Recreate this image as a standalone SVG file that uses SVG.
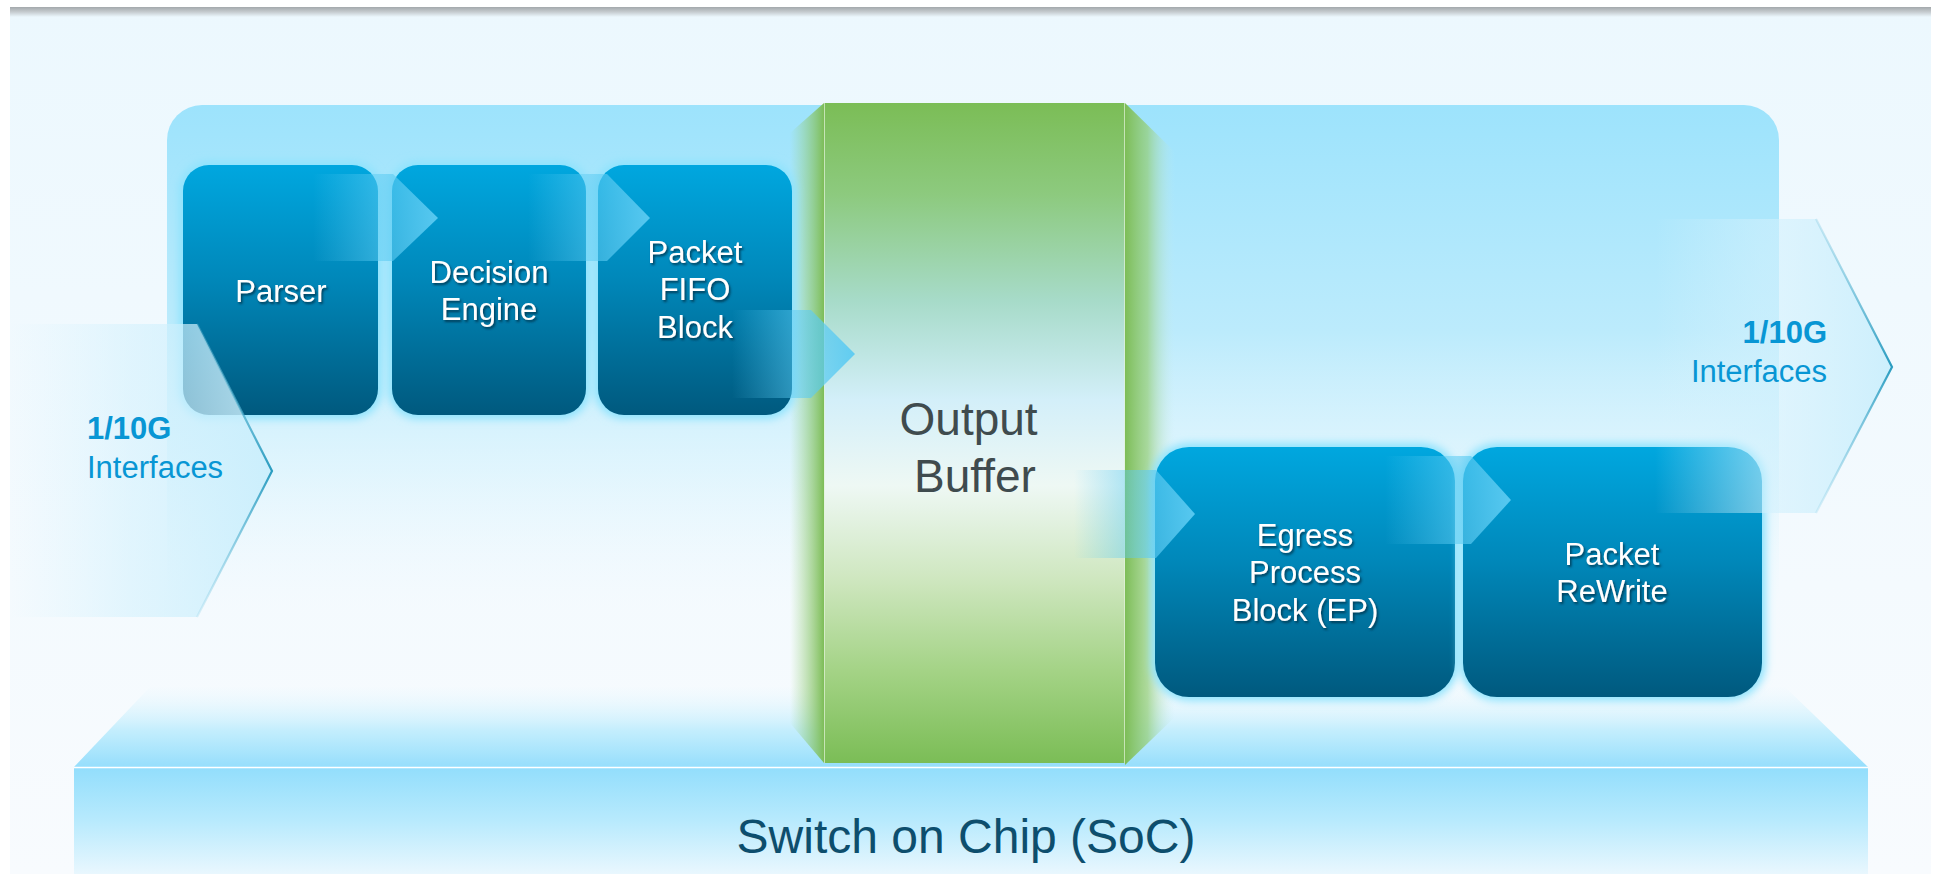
<svg xmlns="http://www.w3.org/2000/svg" width="1934" height="874" viewBox="0 0 1934 874">
  <style>
    .box { fill: url(#boxGrad); }
    .glow { fill: #8ee3fd; filter: url(#soft); }
    .box-label { font-family: "Liberation Sans", Arial, sans-serif; font-size: 31px; fill: #ffffff; text-anchor: middle; filter: url(#txtShadow); }
    .if-rate { font-family: "Liberation Sans", Arial, sans-serif; font-size: 31px; font-weight: bold; fill: #0896d4; }
    .if-name { font-family: "Liberation Sans", Arial, sans-serif; font-size: 31px; fill: #0896d4; }
    .chev { fill: url(#chevGrad); }
    .if-body { fill: url(#ifGrad); }
    .if-edge { fill: none; stroke: url(#ifEdge); stroke-width: 2.2; }
  </style>
  <defs>
    <linearGradient id="bgGrad" x1="0" y1="0" x2="0" y2="1">
      <stop offset="0" stop-color="#ecf8fe"/>
      <stop offset="1" stop-color="#f8fbfe"/>
    </linearGradient>
    <linearGradient id="topShade" gradientUnits="userSpaceOnUse" x1="0" y1="7" x2="0" y2="17">
      <stop offset="0" stop-color="#a3a8ab"/>
      <stop offset="0.5" stop-color="#c6ccd0"/>
      <stop offset="1" stop-color="#ecf8fe"/>
    </linearGradient>
    <linearGradient id="panelGrad" gradientUnits="userSpaceOnUse" x1="0" y1="105" x2="0" y2="610">
      <stop offset="0" stop-color="#9de3fc"/>
      <stop offset="0.45" stop-color="#bcebfc"/>
      <stop offset="0.72" stop-color="#d8f3fd" stop-opacity="0.7"/>
      <stop offset="1" stop-color="#ecf8fe" stop-opacity="0"/>
    </linearGradient>
    <linearGradient id="faceGrad" gradientUnits="userSpaceOnUse" x1="0" y1="685" x2="0" y2="767">
      <stop offset="0" stop-color="#e6f7fe" stop-opacity="0"/>
      <stop offset="0.55" stop-color="#c4eefd"/>
      <stop offset="1" stop-color="#96defc"/>
    </linearGradient>
    <linearGradient id="slabGrad" gradientUnits="userSpaceOnUse" x1="0" y1="768" x2="0" y2="874">
      <stop offset="0" stop-color="#93defc"/>
      <stop offset="0.5" stop-color="#b8eafd"/>
      <stop offset="1" stop-color="#e9f7fe"/>
    </linearGradient>
    <linearGradient id="boxGrad" x1="0" y1="0" x2="0" y2="1">
      <stop offset="0" stop-color="#00a7df"/>
      <stop offset="0.45" stop-color="#0088ba"/>
      <stop offset="1" stop-color="#00597e"/>
    </linearGradient>
    <linearGradient id="greenGrad" gradientUnits="userSpaceOnUse" x1="0" y1="103" x2="0" y2="763">
      <stop offset="0" stop-color="#7bbd56"/>
      <stop offset="0.14" stop-color="#8dca7f"/>
      <stop offset="0.3" stop-color="#a7dbc9"/>
      <stop offset="0.45" stop-color="#d3eff9"/>
      <stop offset="0.58" stop-color="#eef8f4"/>
      <stop offset="0.72" stop-color="#cfe7c0"/>
      <stop offset="0.86" stop-color="#a4d386"/>
      <stop offset="1" stop-color="#7bbd56"/>
    </linearGradient>
    <linearGradient id="bevelL" gradientUnits="userSpaceOnUse" x1="790" y1="0" x2="824" y2="0">
      <stop offset="0" stop-color="#9fd488" stop-opacity="0"/>
      <stop offset="1" stop-color="#7dbd57"/>
    </linearGradient>
    <linearGradient id="bevelR" gradientUnits="userSpaceOnUse" x1="1125" y1="0" x2="1175" y2="0">
      <stop offset="0" stop-color="#7dbd57"/>
      <stop offset="0.45" stop-color="#96cf7c" stop-opacity="0.75"/>
      <stop offset="1" stop-color="#c8ecf0" stop-opacity="0"/>
    </linearGradient>
    <linearGradient id="chevGrad" x1="0" y1="0" x2="1" y2="0">
      <stop offset="0" stop-color="#5ccbf2" stop-opacity="0"/>
      <stop offset="0.55" stop-color="#5ccbf2" stop-opacity="0.55"/>
      <stop offset="1" stop-color="#5ccbf2" stop-opacity="0.95"/>
    </linearGradient>
    <linearGradient id="ifGrad" x1="0" y1="0" x2="1" y2="0">
      <stop offset="0" stop-color="#d8f3fd" stop-opacity="0"/>
      <stop offset="0.45" stop-color="#d2f1fd" stop-opacity="0.55"/>
      <stop offset="1" stop-color="#c9eefc" stop-opacity="0.9"/>
    </linearGradient>
    <linearGradient id="ifEdge" x1="0" y1="0" x2="0" y2="1">
      <stop offset="0" stop-color="#7cc6de" stop-opacity="0.3"/>
      <stop offset="0.5" stop-color="#2a9cc0"/>
      <stop offset="1" stop-color="#9ad6ea" stop-opacity="0.3"/>
    </linearGradient>
    <filter id="soft" x="-20%" y="-20%" width="140%" height="140%">
      <feGaussianBlur stdDeviation="4"/>
    </filter>
    <filter id="txtShadow" x="-20%" y="-30%" width="140%" height="160%">
      <feDropShadow dx="1.5" dy="2" stdDeviation="1" flood-color="#03334b" flood-opacity="0.85"/>
    </filter>
  </defs>

  <!-- page backdrop -->
  <rect x="0" y="0" width="1934" height="874" fill="#ffffff"/>
  <rect x="10" y="7" width="1921" height="867" fill="url(#bgGrad)"/>
  <rect x="10" y="7" width="1921" height="10" fill="url(#topShade)"/>

  <!-- rounded backing panel -->
  <g id="panel">
    <rect x="167" y="105" width="1612" height="520" rx="35" fill="url(#panelGrad)"/>
  </g>

  <!-- chip platform -->
  <g id="soc">
    <polygon points="150,687 1785,687 1868,767 74,767" fill="url(#faceGrad)"/>
    <rect x="74" y="768" width="1794" height="106" fill="url(#slabGrad)"/>
    <line x1="74" y1="767.5" x2="1868" y2="767.5" stroke="#ffffff" stroke-width="1.5"/>
    <text x="966" y="853" font-family="'Liberation Sans', Arial, sans-serif" font-size="48" fill="#0d4e6d" text-anchor="middle">Switch on Chip (SoC)</text>
  </g>

  <!-- shared buffer column -->
  <g id="output-buffer">
    <polygon points="790,133 824,103 824,763 790,723" fill="url(#bevelL)"/>
    <polygon points="1125,103 1175,152 1175,717 1125,765" fill="url(#bevelR)"/>
    <rect x="824" y="103" width="301" height="660" fill="url(#greenGrad)"/>
    <line x1="824.5" y1="103" x2="824.5" y2="763" stroke="#e4f3dc" stroke-width="1" opacity="0.7"/>
    <line x1="1124.5" y1="103" x2="1124.5" y2="763" stroke="#e4f3dc" stroke-width="1" opacity="0.7"/>
    <text font-family="'Liberation Sans', Arial, sans-serif" font-size="46" fill="#3f4b4e" text-anchor="middle">
      <tspan x="975" y="435">Output</tspan>
      <tspan x="975" y="492">Buffer</tspan>
    </text>
  </g>

  <!-- ingress pipeline -->
  <g id="parser">
    <rect class="glow" x="179" y="161" width="203" height="258" rx="30"/>
    <rect class="box" x="183" y="165" width="195" height="250" rx="26"/>
    <text class="box-label" x="281" y="302">Parser</text>
  </g>
  <g id="decision-engine">
    <rect class="glow" x="388" y="161" width="202" height="258" rx="30"/>
    <rect class="box" x="392" y="165" width="194" height="250" rx="26"/>
    <text class="box-label"><tspan x="489" y="283">Decision</tspan><tspan x="489" y="320">Engine</tspan></text>
  </g>
  <g id="packet-fifo">
    <rect class="glow" x="594" y="161" width="202" height="258" rx="30"/>
    <rect class="box" x="598" y="165" width="194" height="250" rx="26"/>
    <text class="box-label"><tspan x="695" y="263">Packet</tspan><tspan x="695" y="300">FIFO</tspan><tspan x="695" y="338">Block</tspan></text>
  </g>

  <!-- egress pipeline -->
  <g id="egress-process">
    <rect class="glow" x="1151" y="443" width="308" height="258" rx="38"/>
    <rect class="box" x="1155" y="447" width="300" height="250" rx="34"/>
    <text class="box-label"><tspan x="1305" y="546">Egress</tspan><tspan x="1305" y="583">Process</tspan><tspan x="1305" y="621">Block (EP)</tspan></text>
  </g>
  <g id="packet-rewrite">
    <rect class="glow" x="1459" y="443" width="307" height="258" rx="38"/>
    <rect class="box" x="1463" y="447" width="299" height="250" rx="34"/>
    <text class="box-label"><tspan x="1612" y="565">Packet</tspan><tspan x="1612" y="602">ReWrite</tspan></text>
  </g>

  <!-- flow chevrons between stages -->
  <g id="connectors">
    <path class="chev" d="M313,174 H393 L438,218 L393,261 H313 Z"/>
    <path class="chev" d="M528,174 H607 L650,218 L607,261 H528 Z"/>
    <path class="chev" d="M732,310 H811 L855,354 L811,398 H732 Z"/>
    <path class="chev" d="M1074,470 H1156 L1195,514 L1156,558 H1074 Z"/>
    <path class="chev" d="M1385,456 H1471 L1511,500 L1471,544 H1385 Z"/>
  </g>

  <!-- line-side ports -->
  <g id="ports-in">
    <path class="if-body" d="M10,324 H197 L272,471 L197,617 H10 Z"/>
    <path class="if-edge" d="M197,324 L272,471 L197,617"/>
    <text class="if-rate" x="87" y="439">1/10G</text>
    <text class="if-name" x="87" y="478">Interfaces</text>
  </g>
  <g id="ports-out">
    <path class="if-body" d="M1655,219 H1816 L1892,367 L1816,513 H1655 Z"/>
    <path class="if-edge" d="M1816,219 L1892,367 L1816,513"/>
    <text class="if-rate" x="1827" y="343" text-anchor="end">1/10G</text>
    <text class="if-name" x="1827" y="382" text-anchor="end">Interfaces</text>
  </g>
</svg>
